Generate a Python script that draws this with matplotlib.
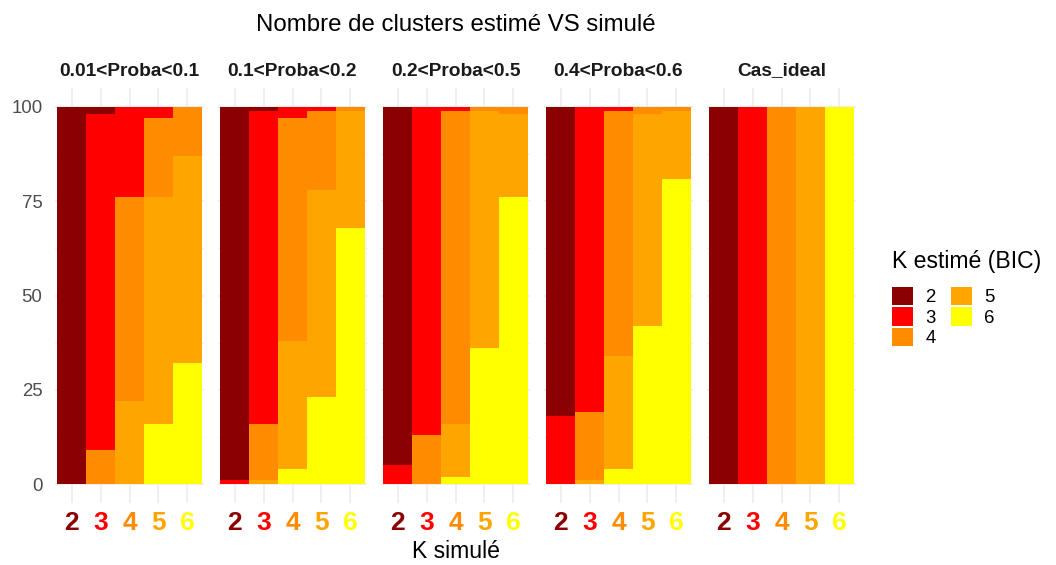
import numpy as np
import matplotlib.pyplot as plt
from matplotlib.patches import Patch

plt.rcParams['font.family'] = ['Liberation Sans', 'DejaVu Sans']

kSim = [2, 3, 4, 5, 6]
kEst = [2, 3, 4, 5, 6]
colors = ['#8B0000', '#FF0000', '#FF8C00', '#FFA500', '#FFFF00']
panels = ['0.01<Proba<0.1', '0.1<Proba<0.2', '0.2<Proba<0.5', '0.4<Proba<0.6', 'Cas_ideal']

# percentages: rows = K estimated (2..6), columns = K simulated (2..6)
p_001_01 = [[100, 2, 0, 0, 0],
            [0, 89, 24, 3, 0],
            [0, 9, 54, 21, 13],
            [0, 0, 22, 60, 55],
            [0, 0, 0, 16, 32]]
p_01_02 = [[99, 1, 0, 0, 0],
           [1, 83, 3, 1, 0],
           [0, 15, 59, 21, 1],
           [0, 1, 34, 55, 31],
           [0, 0, 4, 23, 68]]
p_02_05 = [[95, 0, 0, 0, 0],
           [5, 87, 1, 0, 0],
           [0, 13, 83, 1, 2],
           [0, 0, 14, 63, 22],
           [0, 0, 2, 36, 76]]
p_04_06 = [[82, 0, 0, 0, 0],
           [18, 81, 1, 0, 0],
           [0, 18, 65, 2, 1],
           [0, 1, 30, 56, 18],
           [0, 0, 4, 42, 81]]
p_ideal = [[100, 0, 0, 0, 0],
           [0, 100, 0, 0, 0],
           [0, 0, 100, 0, 0],
           [0, 0, 0, 100, 0],
           [0, 0, 0, 0, 100]]
allData = [p_001_01, p_01_02, p_02_05, p_04_06, p_ideal]

W, H = 1056, 565
fig = plt.figure(figsize=(W / 100, H / 100), dpi=100)

GRID = '#EBEBEB'
left0, pw, gap = 55, 149, 14
top, bottom = 88, 503

for i, (name, data) in enumerate(zip(panels, allData)):
    x0 = left0 + i * (pw + gap)
    ax = fig.add_axes([x0 / W, 1 - bottom / H, pw / W, (bottom - top) / H])
    data = np.array(data, dtype=float)
    # ggplot stacks the first level on top -> draw from K=6 upward
    base = np.zeros(len(kSim))
    for j in reversed(range(len(kEst))):
        ax.bar(kSim, data[j], bottom=base, width=1.0, color=colors[j], linewidth=0, zorder=2)
        base += data[j]

    ax.set_xlim(1.43, 6.57)
    ax.set_ylim(-5, 105)
    ax.set_yticks([0, 25, 50, 75, 100])
    ax.set_yticks([12.5, 37.5, 62.5, 87.5], minor=True)
    ax.set_xticks(kSim)
    ax.grid(True, which='major', color=GRID, lw=1.1, zorder=0)
    ax.grid(True, which='minor', axis='y', color=GRID, lw=0.6, zorder=0)
    ax.set_axisbelow(True)
    for s in ax.spines.values():
        s.set_visible(False)
    ax.tick_params(which='both', length=0)
    ax.tick_params(axis='y', labelsize=13.4, labelcolor='#4D4D4D', pad=9)
    ax.tick_params(axis='x', pad=6)
    ax.set_xticklabels([str(k) for k in kSim], fontsize=19, fontweight='bold')
    for lab, c in zip(ax.get_xticklabels(), colors):
        lab.set_color(c)
    if i > 0:
        ax.set_yticklabels([])
    ax.set_title(name, fontsize=13.8, fontweight='bold', color='#1A1A1A', pad=9)

xc = (left0 + (left0 + 5 * pw + 4 * gap)) / 2 / W
fig.text(xc, 1 - 25 / H, 'Nombre de clusters estimé VS simulé',
         ha='center', va='center', fontsize=17.3)
fig.text(xc, 1 - 552 / H, 'K simulé', ha='center', va='center', fontsize=16.6)

handles = [Patch(facecolor=c, edgecolor='none') for c in colors]
leg = fig.legend(handles, [str(k) for k in kEst], ncol=2, frameon=False,
                 loc='upper left', bbox_to_anchor=(892 / W, 1 - 250 / H),
                 title='K estimé (BIC)', title_fontsize=16.6, fontsize=13.4,
                 handlelength=1.15, handleheight=1.15, handletextpad=0.65,
                 labelspacing=0.05, columnspacing=0.8, borderpad=0, borderaxespad=0)
leg._legend_box.align = 'left'
leg._legend_box.sep = 10

fig.savefig('out.png', dpi=100)
